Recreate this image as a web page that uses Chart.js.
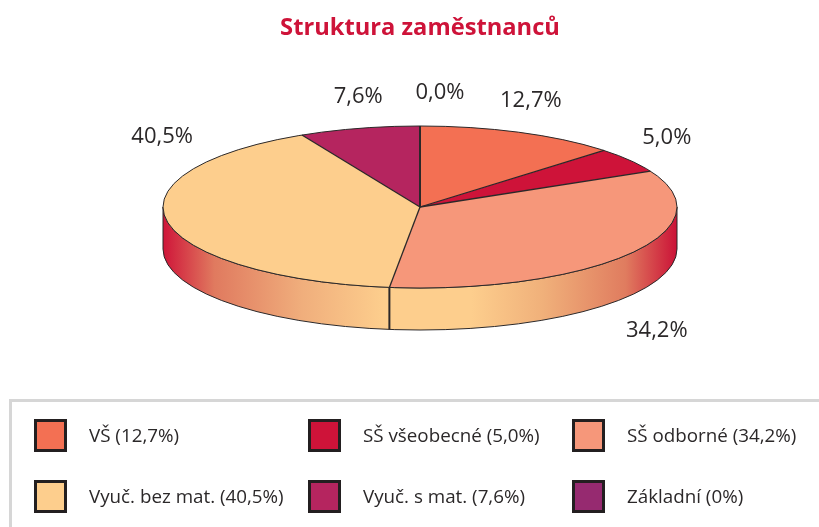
<!DOCTYPE html>
<html lang="cs">
<head>
<meta charset="utf-8">
<title>Struktura zaměstnanců</title>
<script src="https://cdn.jsdelivr.net/npm/chart.js@4"></script>
<style>
    html, body { margin: 0; padding: 0; background: #fff; overflow: hidden; }
    #wrap { position: relative; width: 819px; height: 527px; overflow: hidden; }
    #chart { position: absolute; left: 0; top: 0; }
    #legend-box {
        position: absolute; left: 9px; top: 399px; width: 830px; height: 150px;
        border: 3px solid #d6d6d6; box-sizing: border-box;
    }
    .legend-item { position: absolute; height: 33px; }
    .legend-swatch {
        position: absolute; left: 0; top: 0; width: 33px; height: 33px;
        border: 3px solid #231f20; box-sizing: border-box;
    }
    .legend-text {
        position: absolute; left: 55px; top: 0; white-space: nowrap;
        font: 18.8px/33px "Open Sans", sans-serif; color: #2b2829;
    }
</style>
</head>
<body>
<div id="wrap">
    <canvas id="chart" width="819" height="527"></canvas>
    <div id="legend-box"></div>
    <div id="legend"></div>
</div>
<script>
const categories = ['VŠ', 'SŠ všeobecné', 'SŠ odborné', 'Vyuč. bez mat.', 'Vyuč. s mat.', 'Základní'];
const shares = [12.7, 5.0, 34.2, 40.5, 7.6, 0];
const legendShares = ['12,7%', '5,0%', '34,2%', '40,5%', '7,6%', '0%'];
const sliceLabels = ['12,7%', '5,0%', '34,2%', '40,5%', '7,6%', '0,0%'];
const sliceColors = ['#f37053', '#ce1339', '#f6977a', '#fdce8d', '#b5255f', '#962a70'];

// the labels sit by hand in the original, so they are nudged from their slice's rim point
const labelOffsets = [[11, -32], [37, -22], [27, 77], [-5, -85], [-1, -32], [20, -33]];

const PIE = { cx: 420, cy: 207, rx: 257, ry: 81, depth: 42 };
const LINE_COLOR = '#2b2829';

// slice angle (0 = top, clockwise) to a point on the flattened pie
function rimPoint(angle) {
    const a = angle + Math.PI / 2;
    return { x: PIE.cx + PIE.rx * Math.sin(a), y: PIE.cy - PIE.ry * Math.cos(a) };
}

function drawRim(ctx, arcs) {
    const { cx, cy, rx, ry, depth } = PIE;
    const grad = ctx.createLinearGradient(cx - rx, 0, cx + rx, 0);
    grad.addColorStop(0, '#cf1539');
    grad.addColorStop(0.1, '#e07a5f');
    grad.addColorStop(0.27, '#f0ae7c');
    grad.addColorStop(0.43, '#fdce8d');
    grad.addColorStop(0.6, '#fdce8d');
    grad.addColorStop(0.74, '#f0b07a');
    grad.addColorStop(0.9, '#e07c5f');
    grad.addColorStop(1, '#cb1237');

    ctx.beginPath();
    ctx.ellipse(cx, cy, rx, ry, 0, Math.PI, 0, true);
    ctx.lineTo(cx + rx, cy + depth);
    ctx.ellipse(cx, cy + depth, rx, ry, 0, 0, Math.PI, false);
    ctx.closePath();
    ctx.fillStyle = grad;
    ctx.fill();
    ctx.strokeStyle = LINE_COLOR;
    ctx.lineWidth = 1;
    ctx.stroke();

    // vertical edge where a slice boundary reaches the front of the rim
    arcs.forEach(arc => {
        const p = rimPoint(arc.endAngle);
        if (p.y > cy + 1) {
            ctx.beginPath();
            ctx.moveTo(p.x, p.y);
            ctx.lineTo(p.x, p.y + depth);
            ctx.lineWidth = 2;
            ctx.stroke();
        }
    });
}

const flatPie = {
    id: 'flatPie',
    beforeDatasetsDraw(chart) {
        const ctx = chart.ctx;
        const arcs = chart.getDatasetMeta(0).data;
        const r = arcs[0].outerRadius;
        ctx.save();
        drawRim(ctx, arcs);
        ctx.restore();
        // squash the library's round pie into the ellipse of the top face
        ctx.save();
        ctx.translate(PIE.cx, PIE.cy);
        ctx.scale(PIE.rx / r, PIE.ry / r);
        ctx.translate(-arcs[0].x, -arcs[0].y);
    },
    afterDatasetsDraw(chart) {
        const ctx = chart.ctx;
        const arcs = chart.getDatasetMeta(0).data;
        ctx.restore();

        ctx.save();
        ctx.strokeStyle = LINE_COLOR;
        ctx.lineWidth = 1;
        ctx.beginPath();
        ctx.ellipse(PIE.cx, PIE.cy, PIE.rx, PIE.ry, 0, 0, Math.PI * 2);
        ctx.stroke();
        arcs.forEach((arc, i) => {
            const p = rimPoint(arc.endAngle);
            ctx.beginPath();
            ctx.moveTo(PIE.cx, PIE.cy);
            ctx.lineTo(p.x, p.y);
            // the 12 o'clock spoke is heavier in the original
            ctx.lineWidth = i === arcs.length - 1 ? 2 : 1.3;
            ctx.stroke();
        });

        ctx.font = '22px "Open Sans", sans-serif';
        ctx.fillStyle = '#2b2829';
        ctx.textAlign = 'center';
        ctx.textBaseline = 'middle';
        arcs.forEach((arc, i) => {
            const p = rimPoint((arc.startAngle + arc.endAngle) / 2);
            ctx.fillText(sliceLabels[i], p.x + labelOffsets[i][0], p.y + labelOffsets[i][1]);
        });
        ctx.restore();
    }
};

new Chart(document.getElementById('chart'), {
    type: 'pie',
    data: {
        labels: categories,
        datasets: [{
            data: shares,
            backgroundColor: sliceColors,
            borderWidth: 0,
            clip: false
        }]
    },
    options: {
        responsive: false,
        animation: false,
        layout: { padding: { left: 21 } },
        plugins: {
            legend: { display: false },
            tooltip: { enabled: false },
            title: {
                display: true,
                text: 'Struktura zaměstnanců',
                color: '#ce1339',
                font: { family: '"Open Sans", sans-serif', size: 23.7, weight: 'bold' },
                padding: { top: 14, bottom: 10 }
            }
        }
    },
    plugins: [flatPie]
});

// legend, three columns by two rows like the original
const legendCols = [34, 308, 572];
const legendRows = [419, 480];
const legend = document.getElementById('legend');
categories.forEach((name, i) => {
    const item = document.createElement('div');
    item.className = 'legend-item';
    item.style.left = legendCols[i % 3] + 'px';
    item.style.top = legendRows[Math.floor(i / 3)] + 'px';
    item.innerHTML = `<div class="legend-swatch" style="background:${sliceColors[i]}"></div>` +
        `<div class="legend-text">${name} (${legendShares[i]})</div>`;
    legend.appendChild(item);
});
</script>
</body>
</html>
